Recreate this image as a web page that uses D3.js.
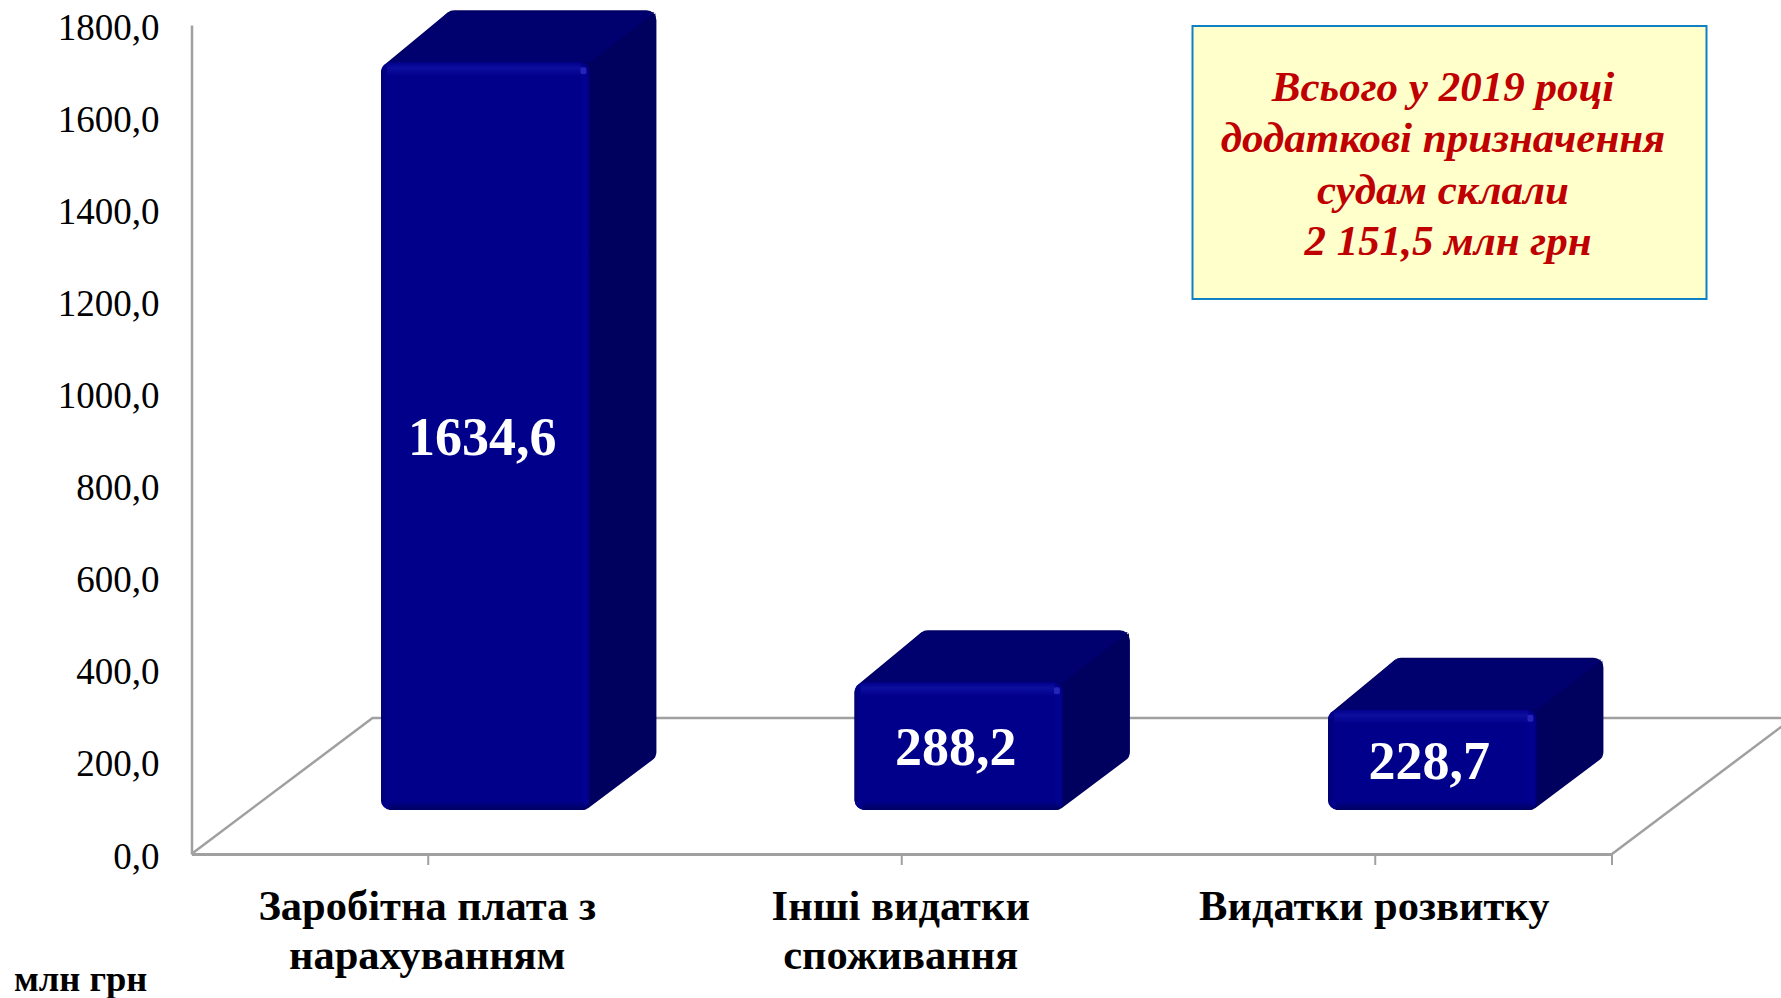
<!DOCTYPE html>
<html><head><meta charset="utf-8">
<script src="https://cdn.jsdelivr.net/npm/d3@7"></script>
<style>html,body{margin:0;padding:0;background:#fff;overflow:hidden}svg{display:block}text{font-family:"Liberation Serif",serif}</style>
</head><body><svg id="c" width="1781" height="998"></svg>
<script>
const categories = [["Заробітна плата з","нарахуванням"],["Інші видатки","споживання"],["Видатки розвитку"]];
const values = [1634.6, 288.2, 228.7];
const yTicks = [0,200,400,600,800,1000,1200,1400,1600,1800];
const noteLines = ["Всього у 2019 році","додаткові призначення","судам склали","2 151,5 млн грн"];
const unitLabel = "млн грн";

const svg = d3.select("#c");
const fmt = d => d.toFixed(1).replace(".", ",");
const x0 = 191.5, x1 = 1612, yB = 854, yT = 25;
const floorDx = 181, floorDy = 136;
const barShiftX = 57, barShiftY = 44, topInset = 5, depthX = 67, depthY = 52, r = 10;
const x = d3.scaleBand().domain(d3.range(categories.length)).range([x0, x1]).paddingInner(0.56).paddingOuter(0.28);
const y = d3.scaleLinear().domain([0, 1800]).range([yB, yT]);
const grey = "#a0a0a0";

// Floor
const floor = svg.append("g").attr("fill","none").attr("stroke",grey).attr("stroke-width",2.5);
floor.append("path").attr("d", d3.line()([[x0,yB],[x0+floorDx,yB-floorDy],[1790,yB-floorDy]]));
floor.append("path").attr("d", d3.line()([[x1,yB],[x1+floorDx,yB-floorDy]]));

// Axes
const yAxis = svg.append("g").attr("transform",`translate(${x0},0)`).call(d3.axisLeft(y).tickValues(yTicks).tickFormat(fmt).tickSize(0).tickPadding(32));
yAxis.select(".domain").attr("stroke",grey).attr("stroke-width",2.5);
yAxis.selectAll("text").attr("font-size",37).attr("fill","#000").attr("font-family","Liberation Serif").attr("dy","0.38em");

const xPt = d3.scaleBand().domain(d3.range(categories.length)).range([x0,x1]);
const xAxis = svg.append("g").attr("transform",`translate(0,${yB})`).call(d3.axisBottom(xPt).tickSize(11).tickSizeOuter(0).tickFormat(""));
xAxis.select(".domain").attr("stroke",grey).attr("stroke-width",3);
xAxis.selectAll("line").attr("stroke",grey).attr("stroke-width",2);
svg.append("line").attr("x1",x1).attr("x2",x1).attr("y1",yB).attr("y2",yB+11).attr("stroke",grey).attr("stroke-width",2);

const catLabels = svg.append("g").selectAll("text").data(categories).join("text")
  .attr("text-anchor","middle").attr("font-weight","bold").attr("font-size",42.5).attr("fill","#000")
  .attr("x",(d,i)=>xPt(i)+xPt.bandwidth()/2-1);
catLabels.selectAll("tspan").data(d=>d).join("tspan")
  .attr("x",function(){return this.parentNode.getAttribute("x")})
  .attr("y",(d,i)=>920+i*49).text(d=>d);

// Gradients
const defs = svg.append("defs");
function grad(id,x2,y2,stops){
  const g=defs.append("linearGradient").attr("id",id).attr("x1",0).attr("y1",0).attr("x2",x2).attr("y2",y2);
  stops.forEach(s=>g.append("stop").attr("offset",s[0]).attr("stop-color",s[1]).attr("stop-opacity",s[2]));
}
grad("edgeTop",0,1,[[0,"#1414a8",0],[.4,"#1414a8",.7],[1,"#1414a8",0]]);
grad("edgeBottom",0,1,[[0,"#000050",0],[1,"#000050",.7]]);
grad("edgeLeft",1,0,[[0,"#000050",.4],[1,"#000050",0]]);
grad("edgeRight",1,0,[[0,"#0808a0",0],[.6,"#0808a0",.35],[1,"#000070",.5]]);

// Bars
const bars = svg.append("g").selectAll("g").data(values).join("g");
bars.each(function(v,i){
  const g = d3.select(this);
  const L = x(i)+barShiftX, W = x.bandwidth(), R = L+W;
  const top = y(v)-barShiftY+topInset, bot = yB-barShiftY;
  const poly = p => g.append("path").attr("d", d3.line()(p)+"Z");
  poly([[L+r,top+r],[L+depthX+r-4,top-depthY+r],[R+depthX-r,top-depthY+r],[R+depthX-r,bot-depthY-r+4],[R-r+3,bot-r],[L+r,bot-r]])
    .attr("fill","#000064").attr("stroke","#000064").attr("stroke-width",2*r).attr("stroke-linejoin","round");
  poly([[L+r,top],[L+depthX,top-depthY+2],[R+depthX-2,top-depthY+2],[R,top]]).attr("fill","#00006e");
  poly([[R,top+2],[R+depthX-1,top-depthY+3],[R+depthX-1,bot-depthY-4],[R-2,bot-2]]).attr("fill","#00005f");
  g.append("rect").attr("x",L).attr("y",top).attr("width",W).attr("height",bot-top).attr("rx",r).attr("fill","#00008b");
  g.append("rect").attr("x",L+6).attr("y",top).attr("width",W-14).attr("height",14).attr("fill","url(#edgeTop)");
  g.append("rect").attr("x",L+8).attr("y",bot-9).attr("width",W-12).attr("height",9).attr("fill","url(#edgeBottom)");
  g.append("rect").attr("x",L).attr("y",top+8).attr("width",6).attr("height",bot-top-16).attr("fill","url(#edgeLeft)");
  g.append("rect").attr("x",R-10).attr("y",top+8).attr("width",10).attr("height",bot-top-14).attr("fill","url(#edgeRight)");
  g.append("rect").attr("x",R-9).attr("y",top+5).attr("width",6).attr("height",7).attr("rx",2).attr("fill","#2424b8");
  g.append("text").attr("x",L+W/2-3).attr("y",(top+bot)/2).attr("dy","0.35em").attr("text-anchor","middle")
    .attr("font-size",54).attr("font-weight","bold").attr("fill","#fff").text(fmt(v));
});

// Note box
svg.append("rect").attr("x",1192.5).attr("y",26).attr("width",514).attr("height",273).attr("fill","#ffffcc").attr("stroke","#0f80c4").attr("stroke-width",2);
svg.append("g").selectAll("text").data(noteLines).join("text")
  .attr("x",(d,i)=>i==3?1448:1443).attr("y",(d,i)=>101+i*51.3).attr("text-anchor","middle")
  .attr("font-size",43).attr("font-weight","bold").attr("font-style","italic").attr("fill","#c00000").text(d=>d);

svg.append("text").attr("x",14).attr("y",991).attr("font-size",36.5).attr("font-weight","bold").attr("fill","#000").text(unitLabel);
</script></body></html>
